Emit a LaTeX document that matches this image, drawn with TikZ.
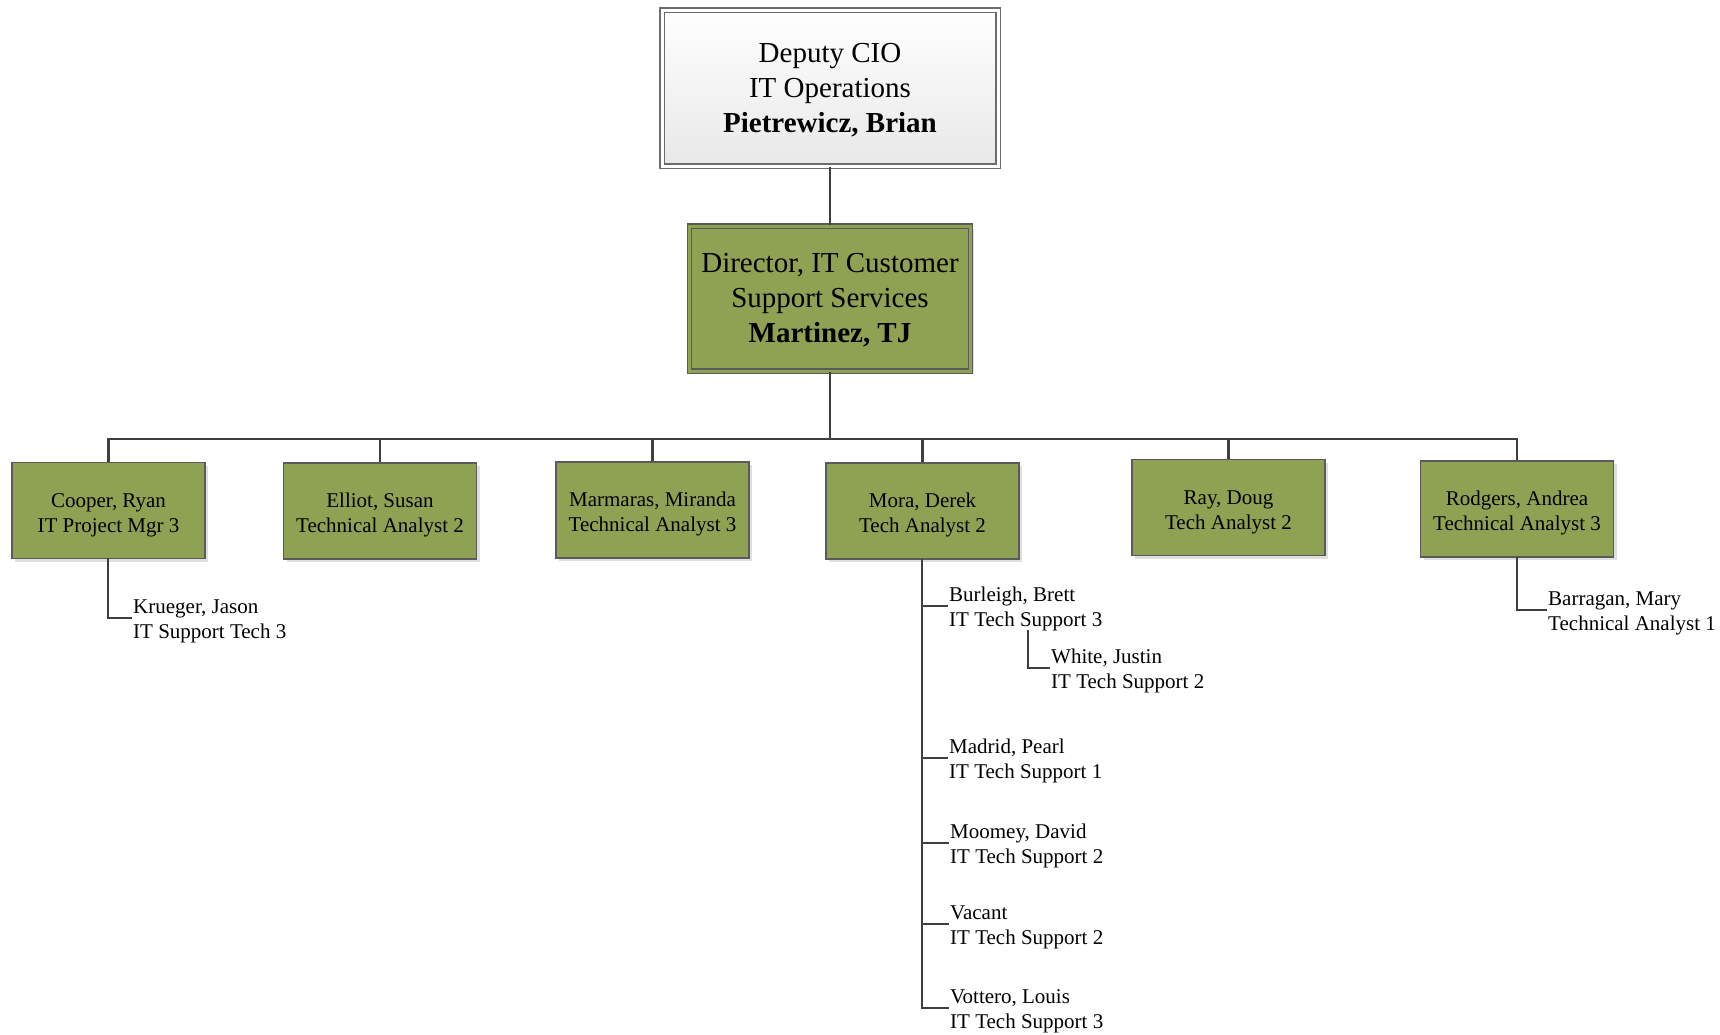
\documentclass[tikz,border=0pt]{standalone}
\usepackage{fontspec}
\setmainfont{Liberation Serif}
\usetikzlibrary{shadows}
\definecolor{olive}{HTML}{8FA152}
\definecolor{linec}{HTML}{3F3F3F}
\definecolor{boxline}{HTML}{5A5A5A}
\newcommand\ctxt[2]{\raisebox{-#1}[\height][\depth]{\begin{tabular}{@{}c@{}}#2\end{tabular}}}
\newcommand\ltxt[2]{\raisebox{-#1}[\height][\depth]{\begin{tabular}{@{}l@{}}#2\end{tabular}}}
\tikzset{
  conn/.style={draw=linec, line width=2.8pt},
  gbox/.style={draw=boxline, line width=1.2pt, fill=olive, minimum width=193pt, minimum height=96pt,
    inner sep=0pt, font=\fontsize{21}{25}\selectfont,
    drop shadow={opacity=0.25, shadow xshift=3pt, shadow yshift=-3pt}},
  child/.style={anchor=west, inner xsep=1pt, inner ysep=0pt, font=\fontsize{21}{25}\selectfont},
  topbox/.style={draw=gray!85!black, line width=1.1pt, double=white, double distance=3pt,
    top color=white, bottom color=gray!18, minimum width=336pt, minimum height=156pt,
    inner sep=0pt, font=\fontsize{29}{35}\selectfont,
    drop shadow={opacity=0.25, shadow xshift=3pt, shadow yshift=-3pt}},
  dirbox/.style={draw=boxline, line width=1.1pt, double=olive, double distance=3pt,
    fill=olive, minimum width=281pt, minimum height=145pt,
    inner sep=0pt, font=\fontsize{29}{35}\selectfont,
    drop shadow={opacity=0.25, shadow xshift=3pt, shadow yshift=-3pt}}
}
\begin{document}
\begin{tikzpicture}[x=1pt,y=-1pt]
\useasboundingbox (0,0) rectangle (1720,1034);
\node[topbox] (deputy) at (830,88) {\ctxt{2.2pt}{Deputy CIO\\IT Operations\\\textbf{Pietrewicz, Brian}}};
\node[dirbox] (director) at (830,298.5) {\ctxt{2.2pt}{Director, IT Customer\\Support Services\\\textbf{Martinez, TJ}}};
\coordinate (bus) at (830,439);

\node[gbox] (cooper) at (108.5,510.5) {\ctxt{4.4pt}{Cooper, Ryan\\IT Project Mgr 3}};
\node[gbox] (elliot) at (380,511) {\ctxt{4.4pt}{Elliot, Susan\\Technical Analyst 2}};
\node[gbox] (marmaras) at (652.5,510) {\ctxt{4.4pt}{Marmaras, Miranda\\Technical Analyst 3}};
\node[gbox] (mora) at (922.5,511) {\ctxt{4.4pt}{Mora, Derek\\Tech Analyst 2}};
\node[gbox] (ray) at (1228.5,507.5) {\ctxt{4.4pt}{Ray, Doug\\Tech Analyst 2}};
\node[gbox] (rodgers) at (1517,509) {\ctxt{4.4pt}{Rodgers, Andrea\\Technical Analyst 3}};

\node[child] (krueger) at (132,618) {\ltxt{3pt}{Krueger, Jason\\IT Support Tech 3}};
\node[child] (burleigh) at (948,606) {\ltxt{3pt}{Burleigh, Brett\\IT Tech Support 3}};
\node[child] (white) at (1050,668) {\ltxt{3pt}{White, Justin\\IT Tech Support 2}};
\node[child] (madrid) at (948,758) {\ltxt{3pt}{Madrid, Pearl\\IT Tech Support 1}};
\node[child] (moomey) at (949,843) {\ltxt{3pt}{Moomey, David\\IT Tech Support 2}};
\node[child] (vacant) at (949,924) {\ltxt{3pt}{Vacant\\IT Tech Support 2}};
\node[child] (vottero) at (949,1008) {\ltxt{3pt}{Vottero, Louis\\IT Tech Support 3}};
\node[child] (barragan) at (1547,610) {\ltxt{3pt}{Barragan, Mary\\Technical Analyst 1}};

\draw[conn] (deputy.south) -- (director.north);
\draw[conn] (director.south) -- (bus);
\foreach \n in {cooper,elliot,marmaras,mora,ray,rodgers}
  \draw[conn] (bus) -| (\n.north);
\draw[conn] (108,558) |- (krueger.west);
\foreach \n in {burleigh,madrid,moomey,vacant,vottero}
  \draw[conn] (922,559) |- (\n.west);
\draw[conn] (1028,630) |- (white.west);
\draw[conn] (1517,557) |- (barragan.west);
\end{tikzpicture}
\end{document}
